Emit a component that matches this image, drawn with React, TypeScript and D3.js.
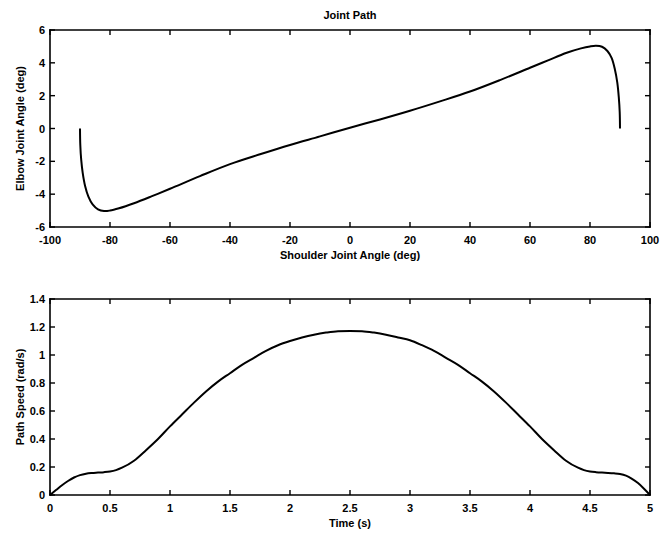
import { useEffect, useRef } from "react";
import * as d3 from "d3";

// Top panel: joint path (shoulder vs elbow angle, deg)
const shoulderAngle = [
  -90, -89.9, -89.6, -89.1, -88.3, -87.2, -85.8, -84, -82, -80, -77, -72, -66, -60, -50, -40, -30, -20, -10, 0,
  10, 20, 30, 40, 50, 60, 66, 72, 77, 80, 82, 84, 85.8, 87.2, 88.3, 89.1, 89.6, 89.9, 90,
];
const elbowAngle = [
  0, -1.0, -1.9, -2.7, -3.5, -4.15, -4.62, -4.92, -5.03, -5.0, -4.86, -4.55, -4.12, -3.67, -2.9, -2.17, -1.57, -1.0, -0.48, 0.05,
  0.55, 1.08, 1.65, 2.25, 2.95, 3.7, 4.15, 4.6, 4.88, 5.0, 5.04, 4.98, 4.72, 4.3, 3.6, 2.8, 1.9, 1.0, 0,
];

// Bottom panel: path speed over time
const time = [
  0, 0.05, 0.1, 0.15, 0.2, 0.25, 0.3, 0.35, 0.4, 0.45, 0.5, 0.55, 0.6, 0.7, 0.8, 0.9, 1.0, 1.1, 1.2, 1.3, 1.4,
  1.5, 1.6, 1.7, 1.8, 1.9, 2.0, 2.1, 2.2, 2.3, 2.4, 2.5, 2.6, 2.7, 2.8, 2.9, 3.0, 3.1, 3.2, 3.3, 3.4, 3.5,
  3.6, 3.7, 3.8, 3.9, 4.0, 4.1, 4.2, 4.3, 4.4, 4.45, 4.5, 4.55, 4.6, 4.65, 4.7, 4.75, 4.8, 4.85, 4.9, 4.95, 5.0,
];
const pathSpeed = [
  0, 0.035, 0.07, 0.1, 0.125, 0.142, 0.152, 0.157, 0.16, 0.163, 0.168, 0.178, 0.195, 0.245, 0.32, 0.4, 0.49, 0.575, 0.66, 0.74, 0.81,
  0.87, 0.93, 0.98, 1.03, 1.07, 1.1, 1.125, 1.145, 1.16, 1.17, 1.172, 1.17, 1.16, 1.145, 1.125, 1.105, 1.07, 1.03, 0.98, 0.93, 0.87,
  0.81, 0.74, 0.66, 0.575, 0.49, 0.4, 0.32, 0.245, 0.195, 0.178, 0.168, 0.163, 0.16, 0.158, 0.155, 0.15, 0.138, 0.115, 0.085, 0.045, 0,
];

const shoulderTicks = [-100, -80, -60, -40, -20, 0, 20, 40, 60, 80, 100];
const elbowTicks = [-6, -4, -2, 0, 2, 4, 6];
const timeTicks = [0, 0.5, 1, 1.5, 2, 2.5, 3, 3.5, 4, 4.5, 5];
const speedTicks = [0, 0.2, 0.4, 0.6, 0.8, 1, 1.2, 1.4];

const font = "Liberation Sans, Arial, Helvetica, sans-serif";

export default function App() {
  const svgRef = useRef<SVGSVGElement | null>(null);

  useEffect(() => {
    const svg = d3.select(svgRef.current);
    svg.selectAll("*").remove();

    const panel = (
      xs: number[],
      ys: number[],
      xDomain: [number, number],
      yDomain: [number, number],
      xTicks: number[],
      yTicks: number[],
      box: { left: number; right: number; top: number; bottom: number },
      xLabel: string,
      yLabel: string,
      curve: d3.CurveFactory
    ) => {
      const x = d3.scaleLinear().domain(xDomain).range([box.left, box.right]);
      const y = d3.scaleLinear().domain(yDomain).range([box.bottom, box.top]);
      const fmt = (d: number) => String(+d);

      // frame as four lines
      const edges = [
        [box.left, box.top, box.right, box.top],
        [box.right, box.top, box.right, box.bottom],
        [box.right, box.bottom, box.left, box.bottom],
        [box.left, box.bottom, box.left, box.top],
      ];
      edges.forEach(([x1, y1, x2, y2]) => {
        svg
          .append("line")
          .attr("x1", x1)
          .attr("y1", y1)
          .attr("x2", x2)
          .attr("y2", y2)
          .attr("stroke", "#000")
          .attr("stroke-width", 1.6)
          .attr("stroke-linecap", "square");
      });

      // inward ticks on all four sides
      const tickLen = 5;
      xTicks.forEach((d) => {
        svg.append("line").attr("x1", x(d)).attr("x2", x(d)).attr("y1", box.bottom).attr("y2", box.bottom - tickLen)
          .attr("stroke", "#000").attr("stroke-width", 1.4);
        svg.append("line").attr("x1", x(d)).attr("x2", x(d)).attr("y1", box.top).attr("y2", box.top + tickLen)
          .attr("stroke", "#000").attr("stroke-width", 1.4);
        svg.append("text")
          .attr("x", x(d))
          .attr("y", box.bottom + 17)
          .attr("text-anchor", "middle")
          .attr("font-family", font)
          .attr("font-size", 11)
          .attr("font-weight", "bold")
          .text(fmt(d));
      });
      yTicks.forEach((d) => {
        svg.append("line").attr("x1", box.left).attr("x2", box.left + tickLen).attr("y1", y(d)).attr("y2", y(d))
          .attr("stroke", "#000").attr("stroke-width", 1.4);
        svg.append("line").attr("x1", box.right).attr("x2", box.right - tickLen).attr("y1", y(d)).attr("y2", y(d))
          .attr("stroke", "#000").attr("stroke-width", 1.4);
        svg.append("text")
          .attr("x", box.left - 5)
          .attr("y", y(d) + 4)
          .attr("text-anchor", "end")
          .attr("font-family", font)
          .attr("font-size", 11)
          .attr("font-weight", "bold")
          .text(fmt(d));
      });

      const line = d3
        .line<number>()
        .x((_, i) => x(xs[i]))
        .y((d) => y(d))
        .curve(curve);

      svg.append("path")
        .attr("d", line(ys) as string)
        .attr("fill", "none")
        .attr("stroke", "#000")
        .attr("stroke-width", 2);

      svg.append("text")
        .attr("x", (box.left + box.right) / 2)
        .attr("y", box.bottom + 32)
        .attr("text-anchor", "middle")
        .attr("font-family", font)
        .attr("font-size", 11)
        .attr("font-weight", "bold")
        .text(xLabel);

      svg.append("text")
        .attr("transform", `translate(24,${(box.top + box.bottom) / 2}) rotate(-90)`)
        .attr("text-anchor", "middle")
        .attr("font-family", font)
        .attr("font-size", 11)
        .attr("font-weight", "bold")
        .text(yLabel);
    };

    panel(
      shoulderAngle,
      elbowAngle,
      [-100, 100],
      [-6, 6],
      shoulderTicks,
      elbowTicks,
      { left: 50, right: 650, top: 30, bottom: 227 },
      "Shoulder Joint Angle (deg)",
      "Elbow Joint Angle (deg)",
      d3.curveCatmullRom
    );

    panel(
      time,
      pathSpeed,
      [0, 5],
      [0, 1.4],
      timeTicks,
      speedTicks,
      { left: 50, right: 650, top: 299, bottom: 495 },
      "Time (s)",
      "Path Speed (rad/s)",
      d3.curveMonotoneX
    );

    svg
      .append("text")
      .attr("x", 350)
      .attr("y", 19)
      .attr("text-anchor", "middle")
      .attr("font-family", font)
      .attr("font-size", 11)
      .attr("font-weight", "bold")
      .text("Joint Path");
  }, []);

  return (
    <svg
      ref={svgRef}
      width={662}
      height={536}
      style={{ position: "absolute", left: 0, top: 0, background: "#fff" }}
    />
  );
}
